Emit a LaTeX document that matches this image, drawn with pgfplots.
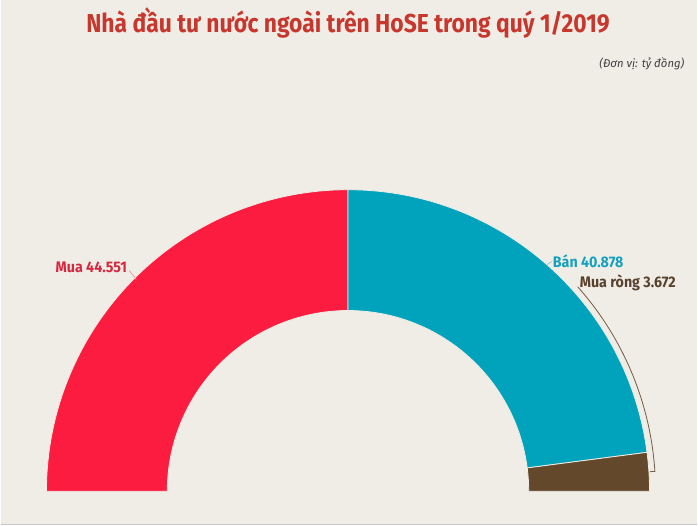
\documentclass[border=0pt]{standalone}
\usepackage{pgfplots}
\pgfplotsset{compat=1.18}
\usepackage{pgfplotstable}
\usepackage{fontspec}
\setmainfont{Fira Sans}

\definecolor{bg}{RGB}{240,237,230}
\definecolor{cmua}{RGB}{252,28,64}
\definecolor{cban}{RGB}{0,163,187}
\definecolor{crong}{RGB}{99,72,43}
\definecolor{ctitle}{RGB}{200,55,45}
\definecolor{lmua}{RGB}{214,40,64}
\definecolor{lban}{RGB}{20,160,190}
\definecolor{lrong}{RGB}{88,66,45}

% ty dong
\pgfplotstableread{
name value
Mua 44.551
Ban 40.878
Rong 3.672
}\shares

% one piece of the half donut: start angle, end angle, colour
\newcommand\donutseg[3]{%
  \fill[#3, draw=bg, line width=0.6pt]
    (axis cs:{348+302*cos(#1)},{34+302*sin(#1)})
    arc[start angle=#1, end angle=#2, radius=226.5pt]
    -- (axis cs:{348+181*cos(#2)},{34+181*sin(#2)})
    arc[start angle=#2, end angle=#1, radius=135.75pt] -- cycle;}

\begin{document}
\begin{tikzpicture}
\pgfplotstablegetelem{0}{value}\of\shares \let\vMua\pgfplotsretval
\pgfplotstablegetelem{1}{value}\of\shares \let\vBan\pgfplotsretval
\pgfplotstablegetelem{2}{value}\of\shares \let\vRong\pgfplotsretval
\pgfmathsetmacro\tot{\vMua+\vBan+\vRong}
\pgfmathsetmacro\aA{180-180*\vMua/\tot}
\pgfmathsetmacro\aB{\aA-180*\vBan/\tot}
\pgfmathsetmacro\mA{(180+\aA)/2}
\pgfmathsetmacro\mB{(\aA+\aB)/2}
\pgfmathsetmacro\mC{\aB/2}
\begin{axis}[x=0.75pt, y=0.75pt, xmin=0, xmax=698, ymin=0, ymax=526,
  hide axis, clip=false]
  \fill[bg] (axis cs:0,0) rectangle (axis cs:698,526);
  \draw[black!22, line width=0.8pt] (axis cs:0,0.6) -- (axis cs:698,0.6);

  \donutseg{180}{\aA}{cmua}
  \donutseg{\aA}{\aB}{cban}
  \donutseg{\aB}{0}{crong}

  % leaders
  \draw[lmua!45!bg, line width=0.5pt] (axis cs:129,255)
    -- (axis cs:{348+300*cos(\mA)},{34+300*sin(\mA)});
  \draw[lban!50!bg, line width=0.5pt] (axis cs:{348+302*cos(\mB)},{34+302*sin(\mB)})
    -- (axis cs:552,264);
  \draw[lrong!85!bg, line width=0.6pt] (axis cs:{348+308*cos(41.7)},{34+308*sin(41.7)})
    arc[start angle=41.7, end angle=\mC, radius=231pt]
    -- (axis cs:{348+303*cos(\mC)},{34+303*sin(\mC)});

  % texts
  \node[text=ctitle, font=\bfseries\fontsize{19.5}{22}\selectfont, xscale=0.88]
    at (axis cs:348,503) {Nhà đầu tư nước ngoài trên HoSE trong quý 1/2019};
  \node[anchor=east, inner sep=0pt, text=black!75, font=\itshape\fontsize{8.5}{10}\selectfont]
    at (axis cs:685,462) {(Đơn vị: tỷ đồng)};
  \node[anchor=west, inner sep=0pt, text=lmua, font=\bfseries\fontsize{11.5}{13}\selectfont, xscale=0.93]
    at (axis cs:55,258) {Mua 44.551};
  \node[anchor=west, inner sep=0pt, text=lban, font=\bfseries\fontsize{11.5}{13}\selectfont, xscale=0.93]
    at (axis cs:553,264) {Bán 40.878};
  \node[anchor=west, inner sep=0pt, text=lrong, font=\bfseries\fontsize{11.5}{13}\selectfont, xscale=0.93]
    at (axis cs:580,243) {Mua ròng 3.672};
\end{axis}
\end{tikzpicture}
\end{document}
